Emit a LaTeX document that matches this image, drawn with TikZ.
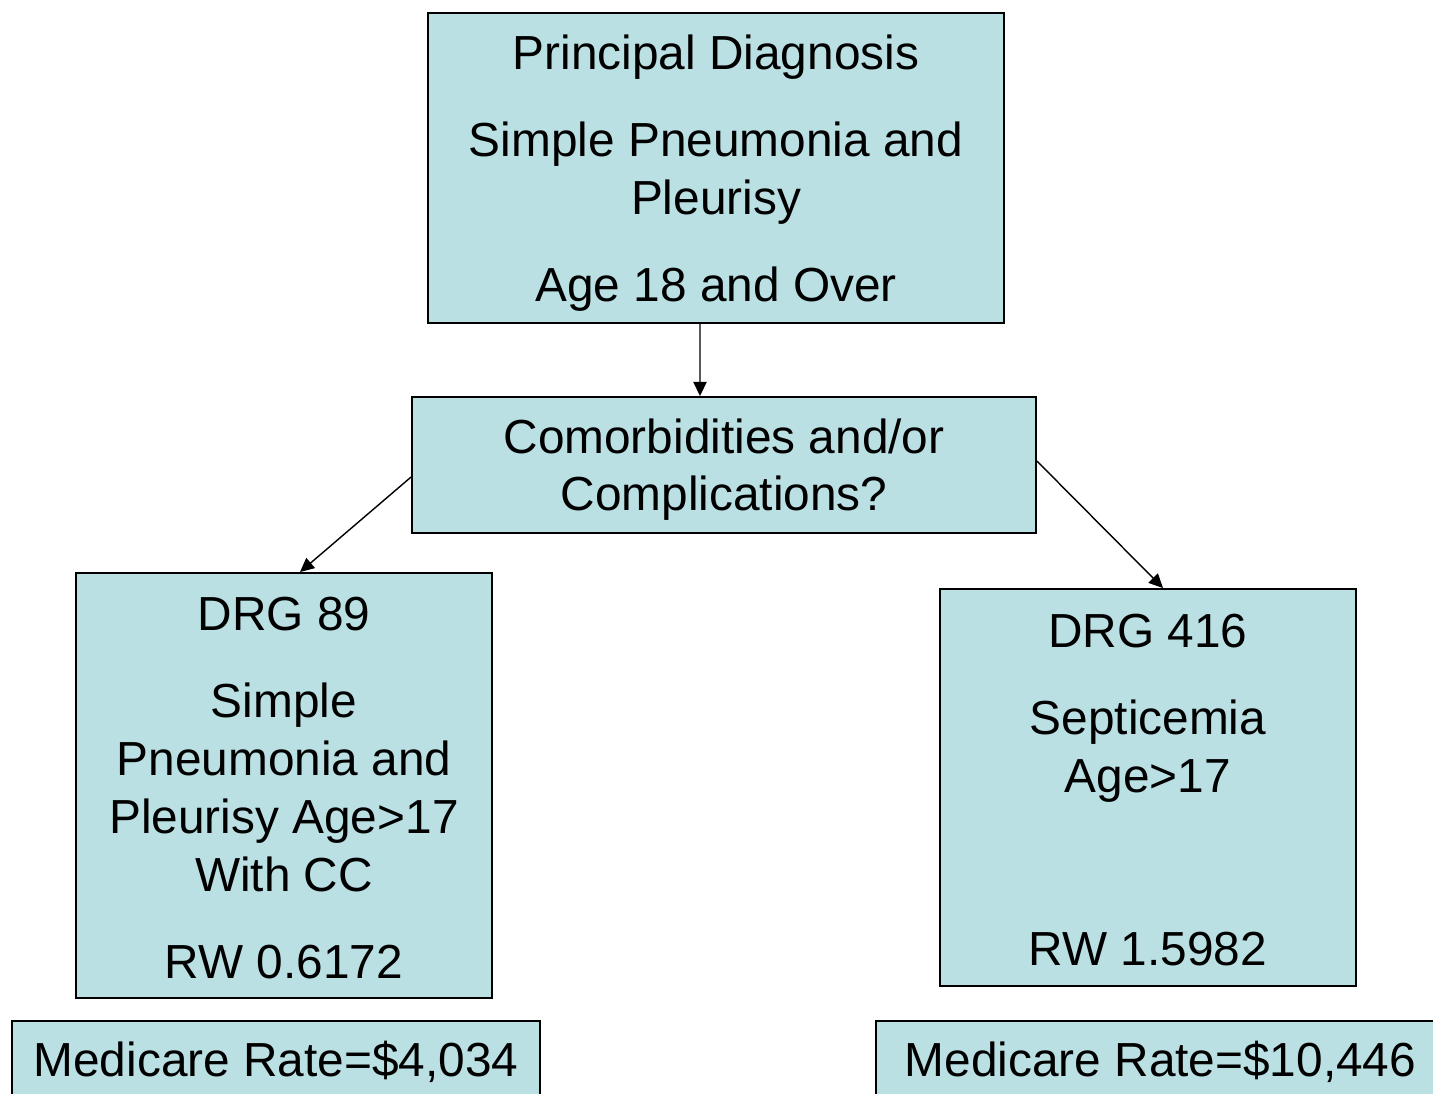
\documentclass[tikz,border=0pt]{standalone}
\usepackage{fontspec}
\setmainfont{Liberation Sans}
\usetikzlibrary{arrows.meta}
\definecolor{boxblue}{RGB}{186,224,227}
\begin{document}
\begin{tikzpicture}[x=0.02cm, y=-0.02cm,
	box/.style={draw, fill=boxblue, line width=1.1pt, align=center, inner sep=0pt,
		font=\fontsize{27.2}{33}\selectfont},
	arr/.style={-{Triangle[length=8pt,width=7.5pt]}, line width=0.8pt}]
	\useasboundingbox (0,0) rectangle (1433,1094);
	\clip (0,0) rectangle (1433,1094);
	\node[box, minimum width=11.52cm, minimum height=6.2cm](pd) at (716,168) {\rule{0pt}{26pt}Principal Diagnosis\\[16.5pt]Simple Pneumonia and\\Pleurisy\\[16.5pt]Age 18 and Over};
	\node[box, minimum width=12.48cm, minimum height=2.72cm](cc) at (724,465) {\rule{0pt}{25pt}Comorbidities and/or\\Complications?};
	\node[box, minimum width=8.32cm, minimum height=8.5cm](drg89) at (284,785.5) {\rule{0pt}{22pt}DRG 89\\[16.5pt]Simple\\Pneumonia and\\Pleurisy Age>17\\With CC\\[16.5pt]RW 0.6172};
	\node[box, minimum width=8.32cm, minimum height=7.94cm](drg416) at (1148,787.5) {\rule{0pt}{22pt}DRG 416\\[16.5pt]Septicemia\\Age>17\\[65.5pt]RW 1.5982};
	\node[box, minimum width=10.56cm, minimum height=1.64cm](rate89) at (276,1062) {Medicare Rate=\$4,034};
	\node[box, minimum width=11.38cm, minimum height=1.64cm](rate416) at (1160.5,1062) {Medicare Rate=\$10,446};
	\draw[arr] ([xshift=-0.32cm]pd.south) -- ([xshift=-0.48cm]cc.north);
	\draw[arr] ([yshift=-0.24cm]cc.west) -- ([xshift=0.32cm]drg89.north);
	\draw[arr] ([yshift=0.08cm]cc.east) -- ([xshift=0.3cm]drg416.north);
\end{tikzpicture}
\end{document}
